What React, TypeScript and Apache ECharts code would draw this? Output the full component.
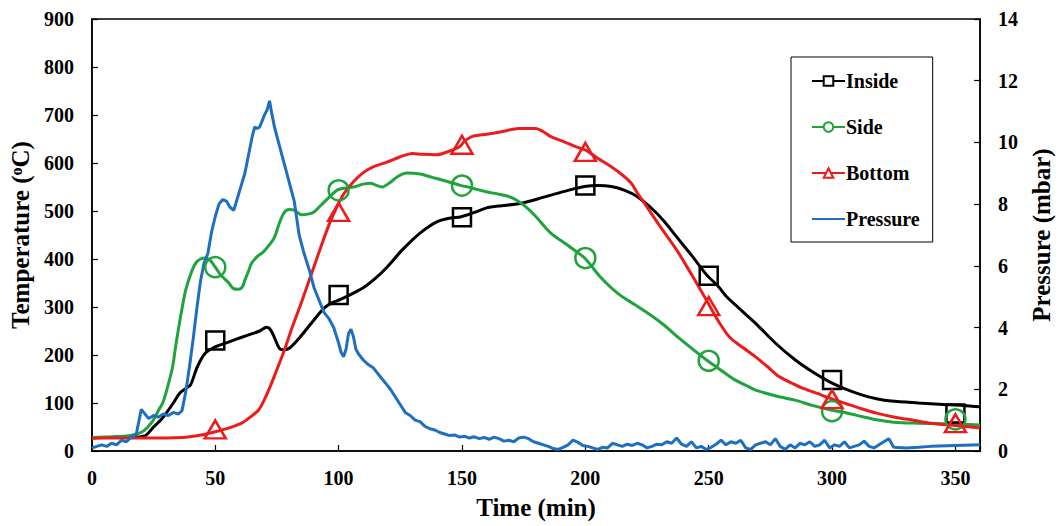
import React, { useEffect, useRef } from "react";
import * as echarts from "echarts";

const FONT = "Liberation Serif";

const xTicks = [0, 50, 100, 150, 200, 250, 300, 350];
const markerTimes = [50, 100, 150, 200, 250, 300, 350];

const insideCurve: [number, number][] = [
  [0, 28], [5, 28], [10, 28], [15, 28], [18, 29], [20, 30], [22, 33], [25, 50], [28, 65], [30, 78],
  [33, 100], [35.5, 120], [38, 130], [40, 138], [42.7, 175], [46, 204], [50, 217], [52.7, 222],
  [58, 232], [63.5, 242], [68, 250], [70.8, 258], [72, 255], [73.5, 242], [76, 214], [78, 211],
  [80, 214], [84, 235], [90, 273], [94, 297], [97, 308], [100.8, 316], [106, 329], [110, 340],
  [115, 360], [119.6, 383], [126, 420], [133, 454], [139.6, 477], [145, 485], [149.7, 488],
  [155, 497], [159.7, 506], [166, 511], [173, 515], [180, 524], [186, 533], [193, 543],
  [199.7, 551], [205, 553], [210.5, 551], [216, 543], [221, 530], [228, 500], [232, 478],
  [237, 446], [243, 408], [249, 368], [254, 342], [257, 323], [263, 294], [269, 266], [277, 225],
  [285, 190], [292, 165], [299, 144], [305, 130], [312, 117], [318, 109], [324, 104], [335, 100],
  [345, 97], [353, 95], [360, 92],
];
const insideMarkers = [230, 325, 487, 553, 365, 148, 78];

const sideCurve: [number, number][] = [
  [0, 28], [5, 29], [10, 30], [15, 32], [18, 35], [21, 42], [24.7, 63], [27, 85], [28.7, 100],
  [30.5, 130], [32.7, 175], [34, 220], [35.5, 267], [37, 310], [38, 335], [40, 368], [42, 391],
  [44, 400], [46, 402], [48, 397], [50, 383], [52, 368], [55.5, 350], [57.5, 338], [59.5, 337],
  [61, 342], [62, 356], [63.5, 375], [64.7, 391], [67, 405], [69.5, 415], [72, 430], [74, 445],
  [76, 475], [78, 497], [80, 503], [82, 502], [85, 492], [88, 494], [90, 498], [92.8, 512],
  [96, 528], [99.6, 544], [103, 548], [106, 550], [110, 556], [113, 558], [115, 554],
  [117.6, 550], [121, 560], [124, 572], [127.7, 579], [133, 577], [138, 570], [143, 563],
  [149, 554], [154, 548], [159.7, 540], [165, 535], [169, 530], [172, 523], [175.8, 509],
  [180, 488], [186, 454], [193, 428], [199.7, 402], [206, 363], [213, 329], [220, 305],
  [226, 285], [232, 262], [238, 235], [244, 210], [249, 190], [254, 172], [260, 150], [265, 137],
  [269, 127], [277, 115], [285, 106], [292, 95], [299, 86], [306, 79], [312, 72], [318, 65],
  [325, 60], [335, 58], [345, 57], [352, 56], [360, 54],
];
const sideMarkers = [383, 543, 553, 402, 188, 83, 66];

const bottomCurve: [number, number][] = [
  [0, 26], [5, 27], [10, 27], [20, 27], [30, 27], [36.7, 28], [40, 30], [45, 34], [50, 40],
  [55, 47], [60.7, 58], [64, 70], [67.5, 85], [70, 108], [72.8, 141], [75, 170], [78, 210],
  [81, 255], [84.8, 308], [87, 340], [90, 384], [92.8, 425], [96, 470], [99, 505], [102, 535],
  [106, 561], [110, 580], [114, 592], [119.6, 602], [125, 613], [130, 620], [134, 618],
  [139.6, 617], [145, 625], [149, 634], [151, 645], [154, 655], [160, 660], [166, 665],
  [173, 672], [180, 672], [183, 665], [186, 655], [191, 645], [196, 634], [200, 627], [205, 610],
  [210.5, 592], [215, 575], [218.6, 558], [221, 538], [224, 516], [230, 470], [237, 419],
  [243, 368], [249, 315], [254, 270], [258.5, 237], [264, 215], [269, 196], [274, 175],
  [278.5, 155], [283, 143], [288, 131], [294, 120], [299, 110], [306, 98], [312, 88], [318, 79],
  [325, 71], [333, 64], [340, 58], [350, 53], [360, 48],
];
const bottomMarkers = [45, 498, 638, 623, 302, 108, 58];

const pressureCurve: [number, number][] = [
  [0, 0.1], [2, 0.15], [4, 0.2], [6, 0.15], [8, 0.25], [10, 0.2], [12, 0.35], [14, 0.3],
  [16, 0.45], [18, 0.55], [20, 1.35], [21, 1.25], [23, 1.05], [25, 1.15], [27, 1.1], [29, 1.2],
  [31, 1.15], [33, 1.25], [35, 1.2], [36.5, 1.3], [38, 1.9], [39.5, 2.7], [41, 3.6], [42.5, 4.6],
  [44, 5.5], [45.5, 6.1], [47, 6.4], [48.5, 7.1], [50, 7.6], [51.5, 8.0], [53, 8.15], [54.5, 8.1],
  [56, 7.9], [57.5, 7.8], [59, 8.2], [60.5, 8.6], [62, 9.0], [63.5, 9.6], [65, 10.2], [66, 10.5],
  [67, 10.45], [68, 10.5], [69, 10.7], [70, 10.9], [71, 11.05], [72, 11.35], [73, 10.9],
  [74, 10.5], [76, 9.9], [78, 9.3], [80, 8.7], [82, 8.1], [84, 7.0], [86, 6.4], [88, 5.9],
  [90, 5.3], [92, 4.9], [94, 4.5], [96, 4.3], [98, 4.0], [100, 3.5], [101, 3.2], [102, 3.05],
  [103, 3.3], [104, 3.8], [105, 3.95], [106, 3.7], [107, 3.3], [108, 3.15], [110, 2.95],
  [112, 2.8], [114, 2.7], [115.5, 2.55], [117, 2.4], [119, 2.2], [121, 2.0], [123, 1.75],
  [125, 1.5], [127, 1.25], [129, 1.15], [131, 1.0], [133, 0.95], [135, 0.8], [137, 0.72],
  [139, 0.68], [141, 0.6], [143, 0.55], [145, 0.5], [147, 0.52], [149, 0.45], [151, 0.48],
  [153, 0.42], [155, 0.46], [157, 0.4], [159, 0.44], [161, 0.38], [163, 0.45], [165, 0.4],
  [167, 0.32], [169, 0.35], [171, 0.3], [173, 0.42], [175, 0.45], [177, 0.4], [179, 0.3],
  [181, 0.25], [183, 0.2], [185, 0.15], [187, 0.08], [189, 0.05], [191, 0.12], [193, 0.2],
  [195, 0.35], [197, 0.28], [199, 0.18], [201, 0.15], [203, 0.1], [205, 0.05], [207, 0.12],
  [209, 0.1], [211, 0.25], [213, 0.2], [215, 0.15], [217, 0.22], [219, 0.18], [221, 0.25],
  [223, 0.2], [225, 0.1], [227, 0.15], [229, 0.22], [231, 0.2], [233, 0.3], [235, 0.25],
  [237, 0.42], [239, 0.22], [241, 0.15], [243, 0.3], [245, 0.1], [247, 0.15], [249, 0.05],
  [251, 0.12], [253, 0.22], [255, 0.35], [257, 0.2], [259, 0.3], [261, 0.25], [263, 0.35],
  [265, 0.1], [267, 0.05], [269, 0.2], [271, 0.25], [273, 0.3], [275, 0.2], [277, 0.4],
  [279, 0.15], [281, 0.05], [283, 0.2], [285, 0.1], [287, 0.25], [289, 0.2], [291, 0.3],
  [293, 0.15], [295, 0.2], [297, 0.35], [299, 0.1], [301, 0.2], [303, 0.15], [305, 0.3],
  [307, 0.1], [309, 0.15], [311, 0.2], [313, 0.32], [315, 0.15], [317, 0.1], [319, 0.2],
  [321, 0.3], [323, 0.4], [325, 0.12], [330, 0.1], [335, 0.12], [340, 0.15], [350, 0.18],
  [360, 0.2],
];

const COLORS = { inside: "#000000", side: "#1fa33c", bottom: "#ec1c1c", pressure: "#1f6fc1" };

export default function App() {
  const ref = useRef<HTMLDivElement>(null);
  useEffect(() => {
    if (!ref.current) return;
    const chart = echarts.init(ref.current, undefined, { renderer: "svg" });
    const tempSeries = (
      name: string,
      color: string,
      curve: [number, number][],
      markers: number[],
      symbol: string,
      size: number | number[]
    ) => [
      {
        name,
        type: "line",
        yAxisIndex: 0,
        data: curve,
        smooth: 0.3,
        showSymbol: false,
        symbol,
        symbolSize: 9,
        lineStyle: { color, width: 3 },
        itemStyle: { color: "#fff", borderColor: color, borderWidth: 2 },
        z: 3,
      },
      {
        name,
        type: "scatter",
        yAxisIndex: 0,
        data: markerTimes.map((t, i) => [t, markers[i]]),
        symbol,
        symbolSize: size,
        itemStyle: { color: "rgba(255,255,255,0)", borderColor: color, borderWidth: 2.5, opacity: 1 },
        z: 5,
      },
    ];
    const axisText = { color: "#000", fontFamily: FONT, fontWeight: "bold", fontSize: 20 };
    const nameText = { color: "#000", fontFamily: FONT, fontWeight: "bold", fontSize: 25 };
    chart.setOption({
      animation: false,
      backgroundColor: "#fff",
      grid: { left: 89, right: 77, top: 19, bottom: 75, show: true, borderColor: "#000", borderWidth: 1.5 },
      legend: {
        data: [
          "Inside",
          "Side",
          "Bottom",
          { name: "Pressure", itemStyle: { color: "rgba(0,0,0,0)", borderColor: "rgba(0,0,0,0)", borderWidth: 0 } },
        ],
        orient: "vertical",
        left: 791,
        top: 57,
        padding: [14, 13, 13, 20],
        itemGap: 26,
        itemWidth: 33,
        itemHeight: 12,
        borderColor: "#000",
        borderWidth: 1,
        backgroundColor: "#fff",
        textStyle: { color: "#000", fontFamily: FONT, fontWeight: "bold", fontSize: 20, padding: [0, 0, 0, -4] },
      },
      xAxis: {
        type: "value",
        min: 0,
        max: 360,
        interval: 50,
        name: "Time (min)",
        nameLocation: "middle",
        nameGap: 44,
        nameTextStyle: nameText,
        axisLine: { lineStyle: { color: "#000", width: 1.5 } },
        axisTick: { inside: true, length: 6, lineStyle: { color: "#000", width: 1.2 } },
        axisLabel: { ...axisText, margin: 17, formatter: (v: number) => (xTicks.includes(v) ? String(v) : "") },
        splitLine: { show: false },
      },
      yAxis: [
        {
          type: "value",
          min: 0,
          max: 900,
          interval: 100,
          name: "Temperature ({sup|o}C)",
          nameLocation: "middle",
          nameGap: 56,
          nameTextStyle: { ...nameText, rich: { sup: { ...nameText, fontSize: 16, verticalAlign: "top", lineHeight: 25 } } },
          axisLine: { show: true, lineStyle: { color: "#000", width: 1.5 } },
          axisTick: { inside: true, length: 6, lineStyle: { color: "#000", width: 1.2 } },
          axisLabel: { ...axisText, margin: 18 },
          splitLine: { show: false },
        },
        {
          type: "value",
          min: 0,
          max: 14,
          interval: 2,
          name: "Pressure (mbar)",
          nameLocation: "middle",
          nameGap: 46,
          nameRotate: 90,
          nameTextStyle: nameText,
          axisLine: { show: true, lineStyle: { color: "#000", width: 1.5 } },
          axisTick: { inside: true, length: 6, lineStyle: { color: "#000", width: 1.2 } },
          axisLabel: { ...axisText, margin: 18 },
          splitLine: { show: false },
        },
      ],
      series: [
        ...tempSeries("Inside", COLORS.inside, insideCurve, insideMarkers, "rect", 18),
        ...tempSeries("Side", COLORS.side, sideCurve, sideMarkers, "circle", 20),
        ...tempSeries("Bottom", COLORS.bottom, bottomCurve, bottomMarkers, "triangle", [21, 18]),
        {
          name: "Pressure",
          type: "line",
          yAxisIndex: 1,
          data: pressureCurve,
          showSymbol: false,
          symbol: "none",
          lineStyle: { color: COLORS.pressure, width: 3 },
          itemStyle: { color: COLORS.pressure },
          z: 4,
        },
      ],
    });
    return () => chart.dispose();
  }, []);
  return <div ref={ref} style={{ width: 1062, height: 526, position: "absolute", left: 0, top: 0 }} />;
}
